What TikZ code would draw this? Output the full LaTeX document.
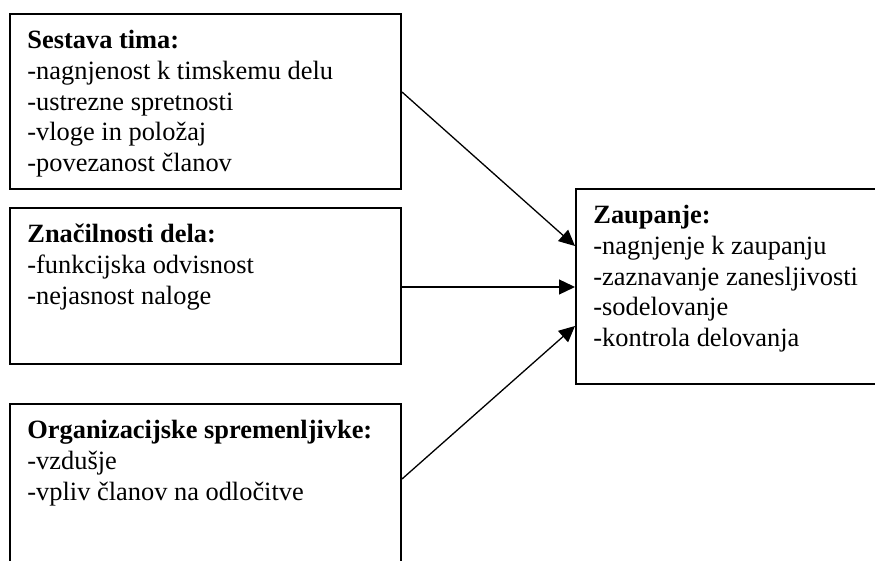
\documentclass[tikz,border=0pt]{standalone}
\usepackage{fontspec}
\setmainfont{Liberation Serif}
\usetikzlibrary{arrows.meta,positioning}

\begin{document}
\begin{tikzpicture}[x=0.5pt,y=-0.5pt,>={Triangle[length=8pt,width=7.5pt]},
    box/.style={draw,line width=1pt,rectangle,anchor=north west,inner sep=0pt},
    txt/.style={inner sep=0pt,align=left,font=\fontsize{13.2}{15.4}\selectfont},
    link/.style={->,line width=0.65pt}]
    \useasboundingbox (0,0) rectangle (875,561);
    \clip (0,0) rectangle (875,561);

    \node[box,minimum width=195.5pt,minimum height=87.5pt] (tim)  at (9,13)   {};
    \node[box,minimum width=195.5pt,minimum height=78pt]   (znac) at (9,207)  {};
    \node[box,minimum width=195.5pt,minimum height=86pt]   (org)  at (9,403)  {};
    \node[box,minimum width=180pt,minimum height=97.5pt]   (zaup) at (575,188) {};

    \node[txt,below right=6.75pt and 9pt of tim.north west] (timtxt)
      {\strut\textbf{Sestava tima:}\\-nagnjenost k timskemu delu\\-ustrezne spretnosti\\-vloge in položaj\\-povezanost članov};
    \node[txt,below right=6.75pt and 9pt of znac.north west] (znactxt)
      {\strut\textbf{Značilnosti dela:}\\-funkcijska odvisnost\\-nejasnost naloge};
    \node[txt,below right=6.75pt and 9pt of org.north west] (orgtxt)
      {\strut\textbf{Organizacijske spremenljivke:}\\-vzdušje\\-vpliv članov na odločitve};
    \node[txt,below right=6.75pt and 9pt of zaup.north west] (zauptxt)
      {\strut\textbf{Zaupanje:}\\-nagnjenje k zaupanju\\-zaznavanje zanesljivosti\\-sodelovanje\\-kontrola delovanja};

    \draw[link] ([shift={(0,79)}]tim.north east)  -- ([shift={(0,58)}]zaup.north west);
    \draw[link] ([shift={(0,80)}]znac.north east) -- ([shift={(0,99)}]zaup.north west);
    \draw[link] ([shift={(0,76)}]org.north east)  -- ([shift={(0,138)}]zaup.north west);
\end{tikzpicture}
\end{document}
